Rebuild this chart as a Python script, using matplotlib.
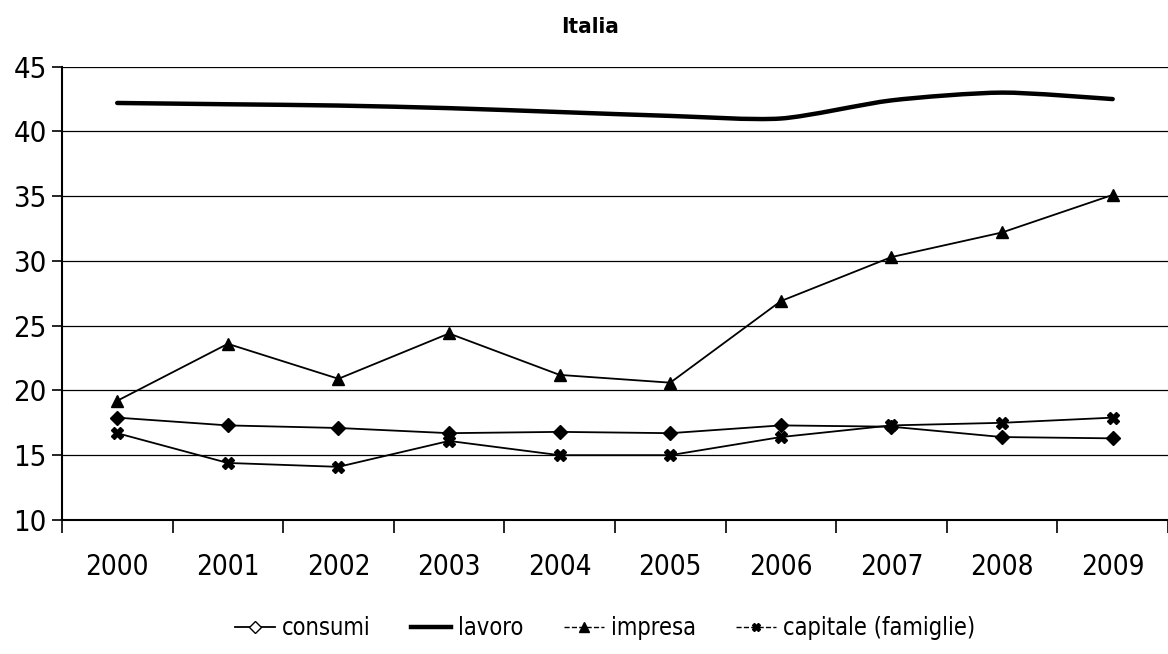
import numpy as np
import matplotlib.pyplot as plt
from matplotlib.path import Path
from matplotlib.patches import PathPatch
from matplotlib.lines import Line2D

plt.rcParams['font.family'] = ['DejaVu Sans']
plt.rcParams['font.stretch'] = 'condensed'

anni = ["2000", "2001", "2002", "2003", "2004", "2005", "2006", "2007", "2008", "2009"]
consumi = [17.9, 17.3, 17.1, 16.7, 16.8, 16.7, 17.3, 17.2, 16.4, 16.3]
lavoro = [42.2, 42.1, 42.0, 41.8, 41.5, 41.2, 41.0, 42.4, 43.0, 42.5]
impresa = [19.2, 23.6, 20.9, 24.4, 21.2, 20.6, 26.9, 30.3, 32.2, 35.1]
capitale = [16.7, 14.4, 14.1, 16.1, 15.0, 15.0, 16.4, 17.3, 17.5, 17.9]


def smooth_path(xs, ys):
    # cubic bezier through the points (Catmull-Rom tangents), like a smoothed spreadsheet line
    pts = np.column_stack([xs, ys]).astype(float)
    verts = [pts[0]]
    codes = [Path.MOVETO]
    n = len(pts)
    for i in range(n - 1):
        p0 = pts[max(i - 1, 0)]
        p1 = pts[i]
        p2 = pts[i + 1]
        p3 = pts[min(i + 2, n - 1)]
        c1 = p1 + (p2 - p0) / 8.0
        c2 = p2 - (p3 - p1) / 8.0
        verts += [c1, c2, p2]
        codes += [Path.CURVE4] * 3
    return Path(verts, codes)


fig = plt.figure(figsize=(11.68, 6.54), dpi=100)
ax = fig.add_axes([0.053, 0.205, 0.947, 0.693])

x = np.arange(len(anni))

ax.plot(x, consumi, color="black", lw=1.3, marker="D", ms=7,
        mfc="black", mec="black", zorder=3)
ax.add_patch(PathPatch(smooth_path(x, lavoro), fill=False, lw=3.2,
                       edgecolor="black", capstyle="round", zorder=3))
ax.plot(x, impresa, color="black", lw=1.3, marker="^", ms=9,
        mfc="black", mec="black", zorder=3)
ax.plot(x, capitale, color="black", lw=1.3, marker="X", ms=8,
        mfc="black", mec="black", zorder=3)

ax.set_xlim(-0.5, 9.5)
ax.set_ylim(10, 45)
ax.set_yticks(range(10, 46, 5))
ax.set_xticks(x)
ax.set_xticklabels(anni)
ax.set_xticks(np.arange(-0.5, 10, 1), minor=True)
ax.tick_params(axis="x", which="major", length=0, pad=24, labelsize=20)
ax.tick_params(axis="x", which="minor", length=9, width=1.2, direction="out")
ax.tick_params(axis="y", length=7, width=1.2, direction="out", labelsize=21, pad=4)

ax.grid(axis="y", color="black", lw=0.9)
ax.set_axisbelow(True)
for s in ["top", "right"]:
    ax.spines[s].set_visible(False)
ax.spines["left"].set_linewidth(1.5)
ax.spines["bottom"].set_linewidth(1.5)

fig.text(0.505, 0.958, "Italia", ha="center", va="center",
         fontsize=16, fontweight="bold")

handles = [
    Line2D([], [], color="black", lw=1.3, marker="D", ms=6, mfc="white", mec="black"),
    Line2D([], [], color="black", lw=3.2),
    Line2D([], [], color="black", lw=1.0, ls="--", marker="^", ms=7, mfc="black"),
    Line2D([], [], color="black", lw=1.0, ls="--", marker="X", ms=6, mfc="black"),
]
fig.legend(handles, ["consumi", "lavoro", "impresa", "capitale (famiglie)"],
           loc="center", bbox_to_anchor=(0.518, 0.04), ncol=4, frameon=False,
           fontsize=17, handlelength=1.7, handletextpad=0.3, columnspacing=1.7)

fig.savefig("out.png", dpi=100)
